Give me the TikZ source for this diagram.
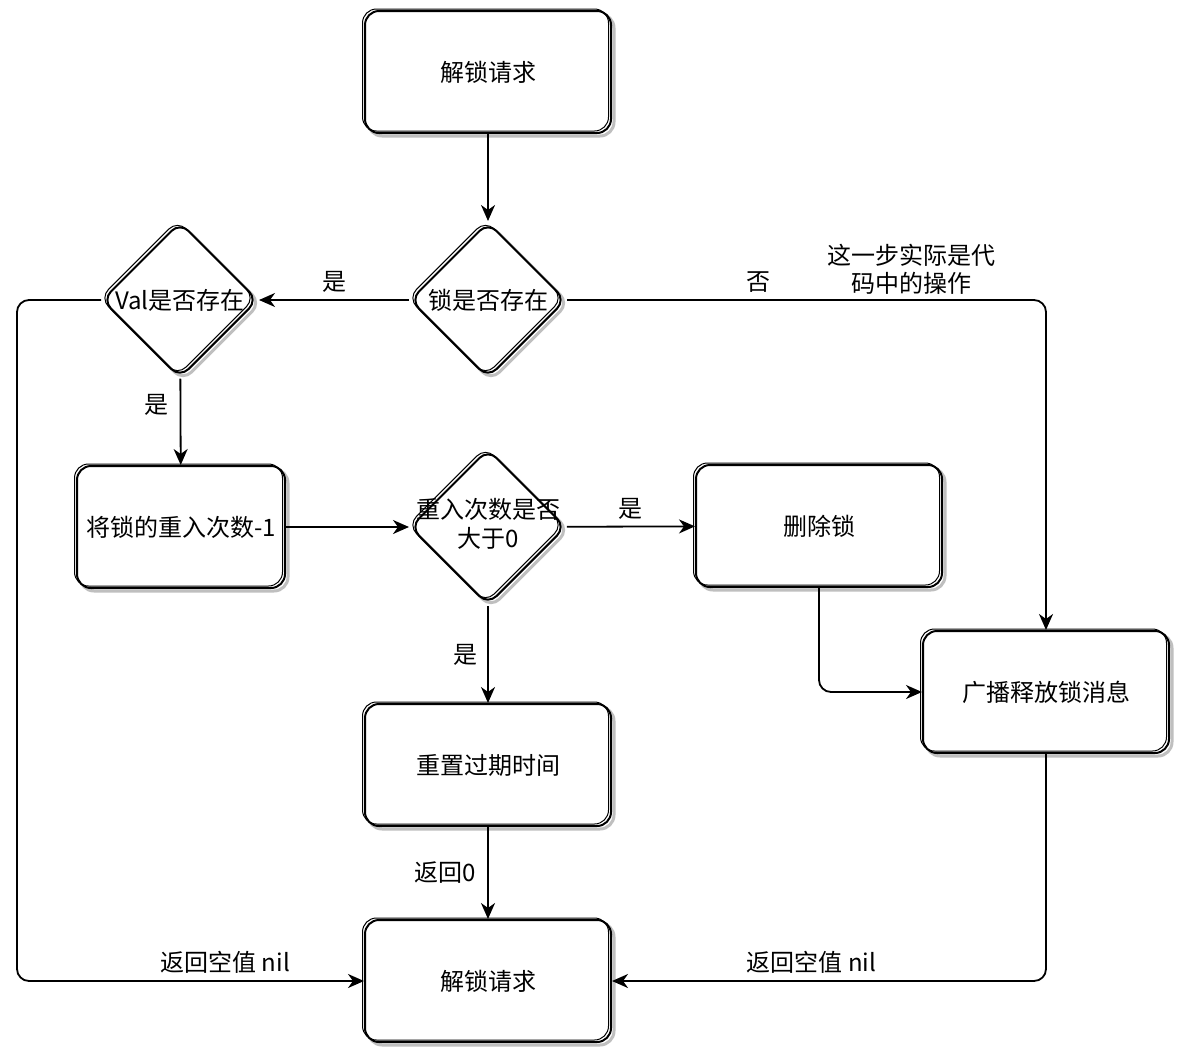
\documentclass[tikz,border=0pt]{standalone}
\usepackage{fontspec}
\newfontfamily\cjk{Noto Sans CJK SC}
\usetikzlibrary{positioning, shapes.geometric, arrows.meta}

\newcommand{\nowd}[1]{\makebox[0pt][c]{#1}}

\begin{document}
\begin{tikzpicture}[
        x=1pt,
        y=-1pt,
        >={Stealth[length=16pt, width=14pt, inset=5pt]},
        every node/.style={font=\cjk\fontsize{24}{28}\selectfont},
        block/.style={draw, line width=2pt, rounded corners=14pt, fill=white, inner sep=0pt,
            minimum width=246pt, minimum height=122pt,
            preaction={draw=black!25, line width=3pt, transform canvas={shift={(3pt,-3pt)}}},
            postaction={draw, line width=1pt, transform canvas={shift={(-2.5pt,2pt)}}}},
        decision/.style={block, diamond, aspect=1, minimum size=156pt, rounded corners=12pt},
        arr/.style={->, line width=1.8pt, rounded corners=12pt}
    ]
    \useasboundingbox (0,0) rectangle (1184,1058);

    \node[block] (req) at (488,72) {解锁请求};
    \node[decision] (lock) at (488,300) {\nowd{锁是否存在}};
    \node[decision] (val) at (180,300) {\nowd{Val是否存在}};
    \node[block, minimum width=208pt] (dec) at (181,527) {将锁的重入次数-1};
    \node[decision] (cnt) at (488,527) {\nowd{\begin{tabular}{@{}c@{}}重入次数是否\\大于0\end{tabular}}};
    \node[block] (del) at (819,526) {删除锁};
    \node[block] (bcast) at (1046,692) {广播释放锁消息};
    \node[block] (reset) at (488,765) {重置过期时间};
    \node[block] (done) at (488,981) {解锁请求};
    \node[align=center] (note) at (911,269) {这一步实际是代\\码中的操作};

    \coordinate (lft) at (17,300);
    \coordinate (rgt) at (1046,300);

    % main flow
    \draw[arr] (req) -- (lock);
    \draw[arr] (lock) -- node[above=3pt]{是} (val);
    \draw[arr] (lock) -- node[above=3pt, pos=0.4]{否} (rgt) -- (bcast);
    \draw[arr] (val) -- node[left=8pt, pos=0.3]{是} (dec);
    \draw[arr] (dec) -- (cnt);
    \draw[arr] (cnt) -- node[above=3pt]{是} (del);
    \draw[arr] (del) |- (bcast);
    \draw[arr] (cnt) -- node[left=6pt]{是} (reset);
    \draw[arr] (reset) -- node[left=8pt]{返回0} (done);

    % returns
    \draw[arr] (val) -- (lft) |- node[pos=0.8, above=3pt]{返回空值 nil} (done);
    \draw[arr] (bcast) |- node[pos=0.77, above=3pt]{返回空值 nil} (done);
\end{tikzpicture}
\end{document}
